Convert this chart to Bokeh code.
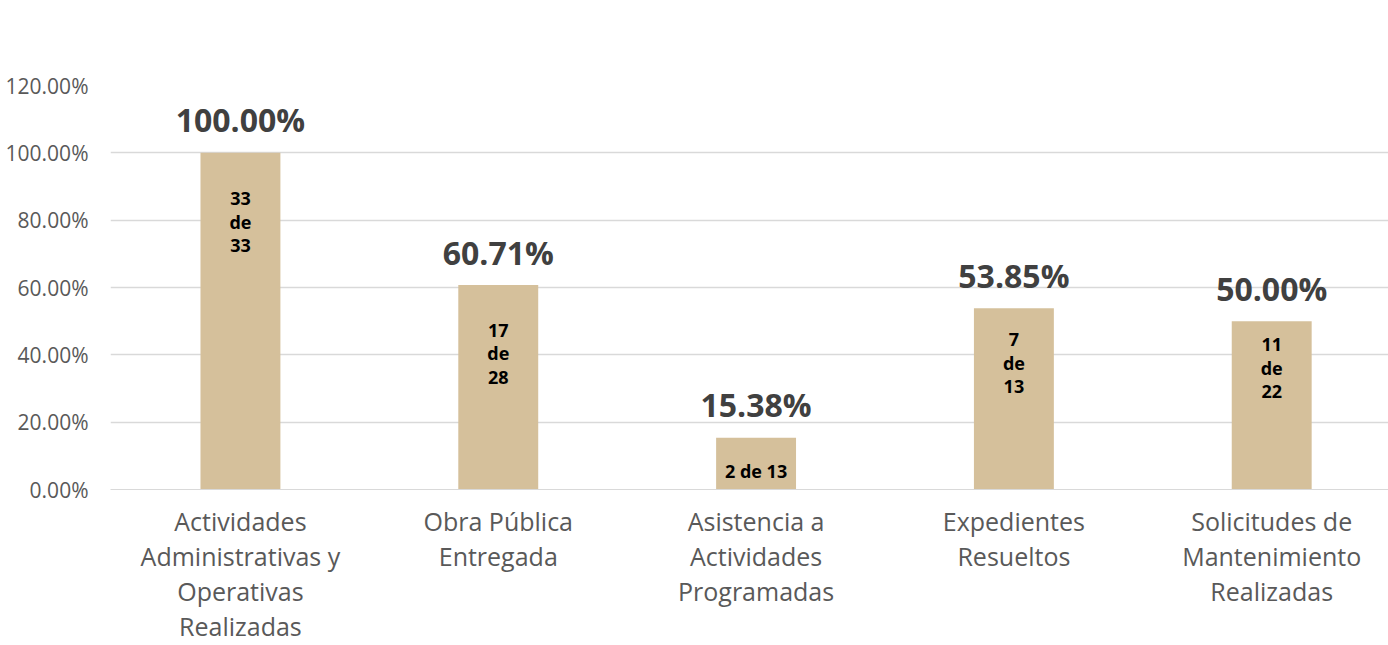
from bokeh.plotting import figure
from bokeh.models import ColumnDataSource, FixedTicker, NumeralTickFormatter, Range1d
from bokeh.core.properties import value
from bokeh.embed import file_html
from bokeh.resources import INLINE

categories = ["Actividades\nAdministrativas y\nOperativas\nRealizadas",
              "Obra Pública\nEntregada",
              "Asistencia a\nActividades\nProgramadas",
              "Expedientes\nResueltos",
              "Solicitudes de\nMantenimiento\nRealizadas"]
done = [33, 17, 2, 7, 11]
total = [33, 28, 13, 13, 22]
pct = [1.0, 0.6071, 0.1538, 0.5385, 0.50]
pct_labels = ["100.00%", "60.71%", "15.38%", "53.85%", "50.00%"]
inner_labels = ["33\nde\n33", "17\nde\n28", "2 de 13", "7\nde\n13", "11\nde\n22"]
inner_label_pos = [0.796, 0.404, 0.056, 0.377, 0.362]
y_ticks = [0.0, 0.2, 0.4, 0.6, 0.8, 1.0, 1.2]

xs = list(range(len(categories)))
src = ColumnDataSource(dict(x=xs, top=pct, lab=pct_labels, inner=inner_labels, ipos=inner_label_pos))

FONT = "Open Sans"
p = figure(width=1388, height=645, output_backend="svg", toolbar_location=None,
           x_range=Range1d(-0.504, 4.453), y_range=Range1d(0, 1.2),
           min_border_left=110, min_border_right=0, min_border_top=85, min_border_bottom=156)
p.outline_line_color = None
p.background_fill_color = "white"

p.vbar(x="x", top="top", width=0.31, bottom=0, source=src, fill_color="#D5C09B", line_color=None)

p.text(x="x", y="top", text="lab", source=src, text_align="center", text_baseline="alphabetic",
       y_offset=-33, text_font=value(FONT), text_font_style="bold", text_font_size="32px",
       text_color="#404040")
p.text(x="x", y="ipos", text="inner", source=src, text_align="center", text_baseline="middle",
       text_font=value(FONT), text_font_style="bold", text_font_size="18px", text_color="#000000",
       text_line_height=0.98)

# axes
p.yaxis.ticker = FixedTicker(ticks=y_ticks)
p.yaxis.formatter = NumeralTickFormatter(format="0.00%")
p.yaxis.axis_line_color = None
p.yaxis.major_tick_line_color = None
p.yaxis.minor_tick_line_color = None
p.yaxis.major_label_standoff = 16
p.yaxis.major_label_text_font = FONT
p.yaxis.major_label_text_font_size = "21px"
p.yaxis.major_label_text_color = "#595959"

p.xaxis.ticker = FixedTicker(ticks=xs)
p.xaxis.major_label_overrides = {i: c for i, c in zip(xs, categories)}
p.xaxis.axis_line_color = "#D9D9D9"
p.xaxis.major_tick_line_color = None
p.xaxis.minor_tick_line_color = None
p.xaxis.major_label_standoff = 8
p.xaxis.major_label_text_font = FONT
p.xaxis.major_label_text_font_size = "25px"
p.xaxis.major_label_text_color = "#595959"
p.xaxis.major_label_text_line_height = 1.03

p.xgrid.grid_line_color = None
p.ygrid.grid_line_color = "#D9D9D9"
p.ygrid.grid_line_width = 1.5

open("out.html", "w").write(file_html(p, INLINE))
